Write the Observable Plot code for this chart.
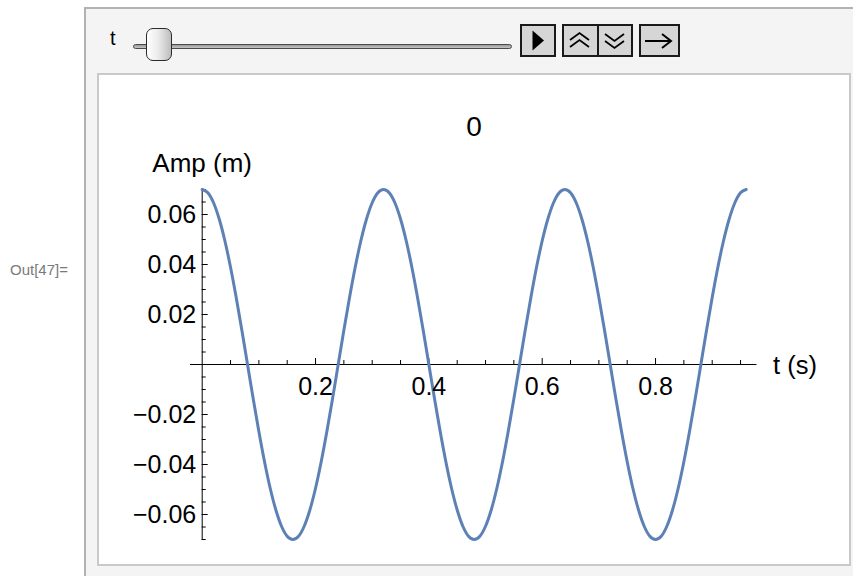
<!DOCTYPE html>
<html>
<head>
<meta charset="utf-8">
<script src="https://cdn.jsdelivr.net/npm/d3@7"></script>
<script src="https://cdn.jsdelivr.net/npm/@observablehq/plot@0.6"></script>
<style>
  html, body { margin: 0; padding: 0; background: #fff; }
  body { width: 853px; height: 576px; overflow: hidden; position: relative; font-family: "Liberation Sans", Arial, sans-serif; }
  #outlabel { position: absolute; left: 10px; top: 262px; font-size: 15px; color: #7a7a7a; line-height: 1; }
  #outer { position: absolute; left: 84px; top: 7px; width: 900px; height: 700px; border: 2px solid #b2b2b2; background: #f4f4f4; }
  #inner { position: absolute; left: 97px; top: 73px; width: 750px; height: 489px; border: 2px solid #c9c9c9; background: #fff; }
  #chart { position: absolute; left: 0; top: 0; }
  #title { position: absolute; left: 0; width: 750px; top: 38px; text-align: center; font-size: 28px; line-height: 1; color: #000; }
  #tlabel { position: absolute; left: 110px; top: 28px; font-size: 20px; line-height: 1; color: #000; }
  #track { position: absolute; left: 133px; top: 44px; width: 377px; height: 3px; border: 1px solid #4a4a4a; border-radius: 3px;
           background: linear-gradient(to bottom, #9a9a9a, #c4c4c4); }
  #thumb { position: absolute; left: 146px; top: 28px; width: 24px; height: 31px; border: 1.5px solid #2a2a2a; border-radius: 7px;
           background: linear-gradient(to right, #ffffff 0%, #ececec 45%, #bdbdbd 100%); }
  .btn { position: absolute; top: 24px; height: 29px; border: 2px solid #1a1a1a; background: #d6d6d6; box-sizing: content-box; }
  .btn svg { position: absolute; left: 0; top: 0; }
</style>
</head>
<body>
<div id="outlabel">Out[47]=</div>
<div id="outer"></div>
<div id="tlabel">t</div>
<div id="track"></div>
<div id="thumb"></div>
<div class="btn" style="left:520px;width:32px;">
  <svg width="32" height="29"><path d="M10.5,4.5 L22,14.5 L10.5,24.5 Z" fill="#000"/></svg>
</div>
<div class="btn" style="left:562px;width:67px;">
  <svg width="67" height="29">
    <line x1="34" y1="0" x2="34" y2="29" stroke="#1a1a1a" stroke-width="2"/>
    <path d="M6,14 L15.5,7 L25,14 M6,21 L15.5,14 L25,21" fill="none" stroke="#000" stroke-width="1.8"/>
    <path d="M41,8 L50.5,15 L60,8 M41,15 L50.5,22 L60,15" fill="none" stroke="#000" stroke-width="1.8"/>
  </svg>
</div>
<div class="btn" style="left:639px;width:37px;">
  <svg width="37" height="29">
    <line x1="4" y1="15" x2="29" y2="15" stroke="#000" stroke-width="2"/>
    <path d="M21,8 L30,15 L21,22" fill="none" stroke="#000" stroke-width="2"/>
  </svg>
</div>
<div id="inner">
  <div id="title">0</div>
  <div id="chart"></div>
</div>
<script>
// ---- data ----
const tValues = [
  0.00, 0.01, 0.02, 0.03, 0.04, 0.05, 0.06, 0.07, 0.08, 0.09, 0.10, 0.11, 0.12, 0.13, 0.14, 0.15,
  0.16, 0.17, 0.18, 0.19, 0.20, 0.21, 0.22, 0.23, 0.24, 0.25, 0.26, 0.27, 0.28, 0.29, 0.30, 0.31,
  0.32, 0.33, 0.34, 0.35, 0.36, 0.37, 0.38, 0.39, 0.40, 0.41, 0.42, 0.43, 0.44, 0.45, 0.46, 0.47,
  0.48, 0.49, 0.50, 0.51, 0.52, 0.53, 0.54, 0.55, 0.56, 0.57, 0.58, 0.59, 0.60, 0.61, 0.62, 0.63,
  0.64, 0.65, 0.66, 0.67, 0.68, 0.69, 0.70, 0.71, 0.72, 0.73, 0.74, 0.75, 0.76, 0.77, 0.78, 0.79,
  0.80, 0.81, 0.82, 0.83, 0.84, 0.85, 0.86, 0.87, 0.88, 0.89, 0.90, 0.91, 0.92, 0.93, 0.94, 0.95,
  0.96
];
const ampValues = [
  0.0700, 0.0687, 0.0647, 0.0582, 0.0495, 0.0389, 0.0268, 0.0137, 0.0000, -0.0137, -0.0268, -0.0389, -0.0495, -0.0582, -0.0647, -0.0687,
  -0.0700, -0.0687, -0.0647, -0.0582, -0.0495, -0.0389, -0.0268, -0.0137, 0.0000, 0.0137, 0.0268, 0.0389, 0.0495, 0.0582, 0.0647, 0.0687,
  0.0700, 0.0687, 0.0647, 0.0582, 0.0495, 0.0389, 0.0268, 0.0137, 0.0000, -0.0137, -0.0268, -0.0389, -0.0495, -0.0582, -0.0647, -0.0687,
  -0.0700, -0.0687, -0.0647, -0.0582, -0.0495, -0.0389, -0.0268, -0.0137, 0.0000, 0.0137, 0.0268, 0.0389, 0.0495, 0.0582, 0.0647, 0.0687,
  0.0700, 0.0687, 0.0647, 0.0582, 0.0495, 0.0389, 0.0268, 0.0137, 0.0000, -0.0137, -0.0268, -0.0389, -0.0495, -0.0582, -0.0647, -0.0687,
  -0.0700, -0.0687, -0.0647, -0.0582, -0.0495, -0.0389, -0.0268, -0.0137, 0.0000, 0.0137, 0.0268, 0.0389, 0.0495, 0.0582, 0.0647, 0.0687,
  0.0700
];
const xTickValues = [0.2, 0.4, 0.6, 0.8];
const xTickLabels = ["0.2", "0.4", "0.6", "0.8"];
const xMinorTicks = [0.05, 0.1, 0.15, 0.25, 0.3, 0.35, 0.45, 0.5, 0.55, 0.65, 0.7, 0.75, 0.85, 0.9, 0.95];
const yTickValues = [-0.06, -0.04, -0.02, 0.02, 0.04, 0.06];
const yTickLabels = ["\u22120.06", "\u22120.04", "\u22120.02", "0.02", "0.04", "0.06"];
const yMinorTicks = [-0.07, -0.065, -0.055, -0.05, -0.045, -0.035, -0.03, -0.025, -0.015, -0.01, -0.005,
                     0.005, 0.01, 0.015, 0.025, 0.03, 0.035, 0.045, 0.05, 0.055, 0.065, 0.07];
const xAxisLabel = "t (s)";
const yAxisLabel = "Amp (m)";

// ---- chart ----
const series = tValues.map((t, i) => ({t, amp: ampValues[i]}));
const X_START = -0.0206, X_END = 0.979;   // extent of the drawn x axis line
const Y_START = -0.0704, Y_END = 0.0704;  // extent of the drawn y axis line
const FONT = "'Liberation Sans', Arial, sans-serif";

const chart = Plot.plot({
  width: 750,
  height: 489,
  marginLeft: 102.7,
  marginRight: 103.3,
  marginTop: 114,
  marginBottom: 25,
  x: {domain: [0, 0.96], axis: null},
  y: {domain: [-0.07, 0.07], axis: null},
  style: {fontFamily: FONT, fontSize: "25px", background: "transparent", overflow: "visible", color: "#000"},
  marks: [
    Plot.ruleY([0], {x1: () => X_START, x2: () => X_END, stroke: "#000", strokeWidth: 1}),
    Plot.ruleX([0], {y1: () => Y_START, y2: () => Y_END, stroke: "#000", strokeWidth: 1}),
    Plot.ruleX(xTickValues, {y1: () => 0, y2: () => 0, insetTop: -6, stroke: "#000", strokeWidth: 1}),
    Plot.ruleX(xMinorTicks, {y1: () => 0, y2: () => 0, insetTop: -4, stroke: "#000", strokeWidth: 1}),
    Plot.ruleY(yTickValues, {x1: () => 0, x2: () => 0, insetRight: -6, stroke: "#000", strokeWidth: 1}),
    Plot.ruleY(yMinorTicks, {x1: () => 0, x2: () => 0, insetRight: -4, stroke: "#000", strokeWidth: 1}),
    Plot.line(series, {x: "t", y: "amp", stroke: "#5e81b5", strokeWidth: 3, curve: "monotone-x"}),
    Plot.text(xTickValues, {x: d => d, y: () => 0, text: (d, i) => xTickLabels[i], lineAnchor: "top", dy: 13, fontSize: 25, fill: "#000"}),
    Plot.text(yTickValues, {x: () => 0, y: d => d, text: (d, i) => yTickLabels[i], textAnchor: "end", dx: -6, fontSize: 25, fill: "#000"}),
    Plot.text([xAxisLabel], {x: () => X_END, y: () => 0, text: d => d, textAnchor: "start", dx: 16, dy: 1, fontSize: 25.5, fill: "#000"}),
    Plot.text([yAxisLabel], {x: () => 0, y: () => Y_END, text: d => d, lineAnchor: "bottom", dy: -17, fontSize: 26, fill: "#000"})
  ]
});
document.getElementById("chart").appendChild(chart);
</script>
</body>
</html>
